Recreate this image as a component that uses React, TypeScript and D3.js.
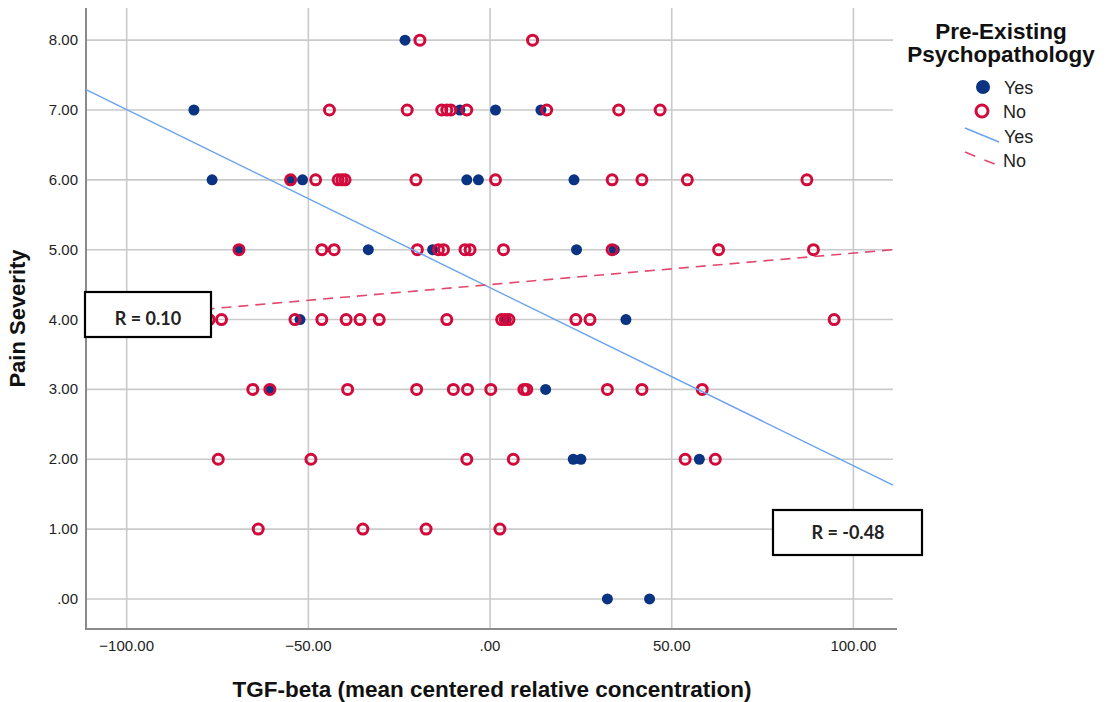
import React from "react";
import * as d3 from "d3";

// ---- data ----
const yTicks = [0, 1, 2, 3, 4, 5, 6, 7, 8];
const xTicks = [-100, -50, 0, 50, 100];

// Pre-existing psychopathology: Yes (filled navy dots)
const yesX = [
  -23.4,
  -81.5, -8.3, 1.5, 14.0,
  -76.5, -54.7, -51.6, -6.4, -3.2, 23.1,
  -69.1, -33.5, -15.8, 34.2, 23.8,
  -52.3, 4.4, 37.4,
  -60.6, 15.3,
  22.9, 25.0, 57.6,
  32.3, 43.9,
];
const yesY = [
  8,
  7, 7, 7, 7,
  6, 6, 6, 6, 6, 6,
  5, 5, 5, 5, 5,
  4, 4, 4,
  3, 3,
  2, 2, 2,
  0, 0,
];

// Pre-existing psychopathology: No (red rings)
const noX = [
  -19.3, 11.7,
  -44.2, -22.8, -13.3, -11.9, -10.8, -6.4, 15.6, 35.4, 46.8,
  -54.9, -48.0, -41.8, -40.8, -39.9, -20.4, 1.5, 33.6, 41.8, 54.3, 87.2,
  -69.1, -46.3, -42.9, -20.0, -14.2, -12.8, -6.9, -5.5, 3.7, 33.6, 62.9, 89.0,
  -77.3, -73.9, -53.7, -46.3, -39.6, -35.8, -30.5, -11.9, 3.2, 4.2, 5.2, 23.6, 27.5, 94.7,
  -65.3, -60.6, -39.2, -20.2, -10.1, -6.2, 0.2, 9.3, 10.1, 32.3, 41.8, 58.4,
  -74.8, -49.3, -6.4, 6.4, 53.7, 62.0,
  -63.8, -35.0, -17.6, 2.7,
];
const noY = [
  8, 8,
  7, 7, 7, 7, 7, 7, 7, 7, 7,
  6, 6, 6, 6, 6, 6, 6, 6, 6, 6, 6,
  5, 5, 5, 5, 5, 5, 5, 5, 5, 5, 5, 5,
  4, 4, 4, 4, 4, 4, 4, 4, 4, 4, 4, 4, 4, 4,
  3, 3, 3, 3, 3, 3, 3, 3, 3, 3, 3, 3,
  2, 2, 2, 2, 2, 2,
  1, 1, 1, 1,
];

// fit lines (endpoints at the axis range)
const fitX = [-111.2, 110.9];
const yesFitY = [7.29, 1.63];
const noFitY = [4.0, 5.0];

const rLabels = ["R = 0.10", "R = -0.48"];

export default function App() {
  const W = 1108, H = 702;
  const left = 86, right = 893, top = 8, bottom = 629;
  const x = d3.scaleLinear().domain([-111.2, 110.9]).range([left, right]);
  const y = d3.scaleLinear().domain([-0.43, 8.46]).range([bottom, top]);
  const fmt = (v: number) => (v === 0 ? ".00" : d3.format(".2f")(v));
  const line = d3.line<[number, number]>().x((d) => x(d[0])).y((d) => y(d[1]));
  const yesLine = line(fitX.map((v, i) => [v, yesFitY[i]] as [number, number])) || "";
  const noLine = line(fitX.map((v, i) => [v, noFitY[i]] as [number, number])) || "";

  const red = "#d20a3c";
  const navy = "#0a3482";
  const font = "Arial, 'Liberation Sans', sans-serif";

  return (
    <svg width={W} height={H} style={{ position: "absolute", left: 0, top: 0, background: "#fff" }}>
      <rect x={0} y={0} width={W} height={H} fill="#fff" />
      {/* gridlines */}
      {yTicks.map((t) => (
        <line key={"gy" + t} x1={left} x2={right} y1={y(t)} y2={y(t)} stroke="#cacaca" strokeWidth={1.6} />
      ))}
      {xTicks.map((t) => (
        <line key={"gx" + t} x1={x(t)} x2={x(t)} y1={top} y2={bottom} stroke="#cacaca" strokeWidth={1.6} />
      ))}
      {/* axes */}
      <line x1={left} x2={left} y1={top} y2={bottom} stroke="#8a8a8a" strokeWidth={2} />
      <line x1={left - 1} x2={right + 4} y1={bottom} y2={bottom} stroke="#8a8a8a" strokeWidth={2} />
      {/* tick labels */}
      {yTicks.map((t) => (
        <text key={"ty" + t} x={78} y={y(t) + 5} textAnchor="end" fontFamily={font} fontSize={15} fill="#222">
          {fmt(t)}
        </text>
      ))}
      {xTicks.map((t) => (
        <text key={"tx" + t} x={x(t)} y={651} textAnchor="middle" fontFamily={font} fontSize={15} fill="#222">
          {fmt(t)}
        </text>
      ))}
      {/* axis titles */}
      <text x={492} y={697} textAnchor="middle" fontFamily={font} fontSize={22.5} fontWeight="bold" fill="#111">
        TGF-beta (mean centered relative concentration)
      </text>
      <text
        transform={`translate(25,${(top + bottom) / 2}) rotate(-90)`}
        textAnchor="middle"
        fontFamily={font}
        fontSize={22}
        fontWeight="bold"
        fill="#111"
      >
        Pain Severity
      </text>
      {/* points */}
      {yesX.map((v, i) => (
        <circle key={"y" + i} cx={x(v)} cy={y(yesY[i])} r={5.5} fill={navy} />
      ))}
      {noX.map((v, i) => (
        <circle key={"n" + i} cx={x(v)} cy={y(noY[i])} r={5} fill="none" stroke={red} strokeWidth={3} />
      ))}
      {/* fit lines */}
      <path d={yesLine} stroke="#6aa2ee" strokeWidth={1.4} fill="none" />
      <path d={noLine} stroke="#e2476e" strokeWidth={1.6} fill="none" strokeDasharray="10 7" />
      {/* R boxes */}
      <rect x={85} y={292} width={126} height={45} fill="#fff" stroke="#000" strokeWidth={2.2} />
      <text x={148} y={325} textAnchor="middle" fontFamily="Lato, sans-serif" fontWeight="bold" fontSize={18} fill="#222">
        {rLabels[0]}
      </text>
      <rect x={773} y={510} width={149} height={45} fill="#fff" stroke="#000" strokeWidth={2.2} />
      <text x={848} y={539} textAnchor="middle" fontFamily="Lato, sans-serif" fontWeight="bold" fontSize={18} fill="#222">
        {rLabels[1]}
      </text>
      {/* legend */}
      <text x={1001} y={39} textAnchor="middle" fontFamily={font} fontSize={22.5} fontWeight="bold" fill="#111">
        Pre-Existing
      </text>
      <text x={1001} y={62} textAnchor="middle" fontFamily={font} fontSize={22.5} fontWeight="bold" fill="#111">
        Psychopathology
      </text>
      <circle cx={983} cy={87} r={7} fill={navy} />
      <text x={1004} y={94} fontFamily={font} fontSize={18} fill="#222">Yes</text>
      <circle cx={982} cy={111} r={6} fill="none" stroke={red} strokeWidth={3} />
      <text x={1003} y={118} fontFamily={font} fontSize={18} fill="#222">No</text>
      <line x1={965} y1={128} x2={999} y2={142} stroke="#6aa2ee" strokeWidth={1.4} />
      <text x={1004} y={143} fontFamily={font} fontSize={18} fill="#222">Yes</text>
      <line x1={965} y1={152} x2={997} y2={165} stroke="#e2476e" strokeWidth={1.6} strokeDasharray="11 10" />
      <text x={1003} y={167} fontFamily={font} fontSize={18} fill="#222">No</text>
    </svg>
  );
}
